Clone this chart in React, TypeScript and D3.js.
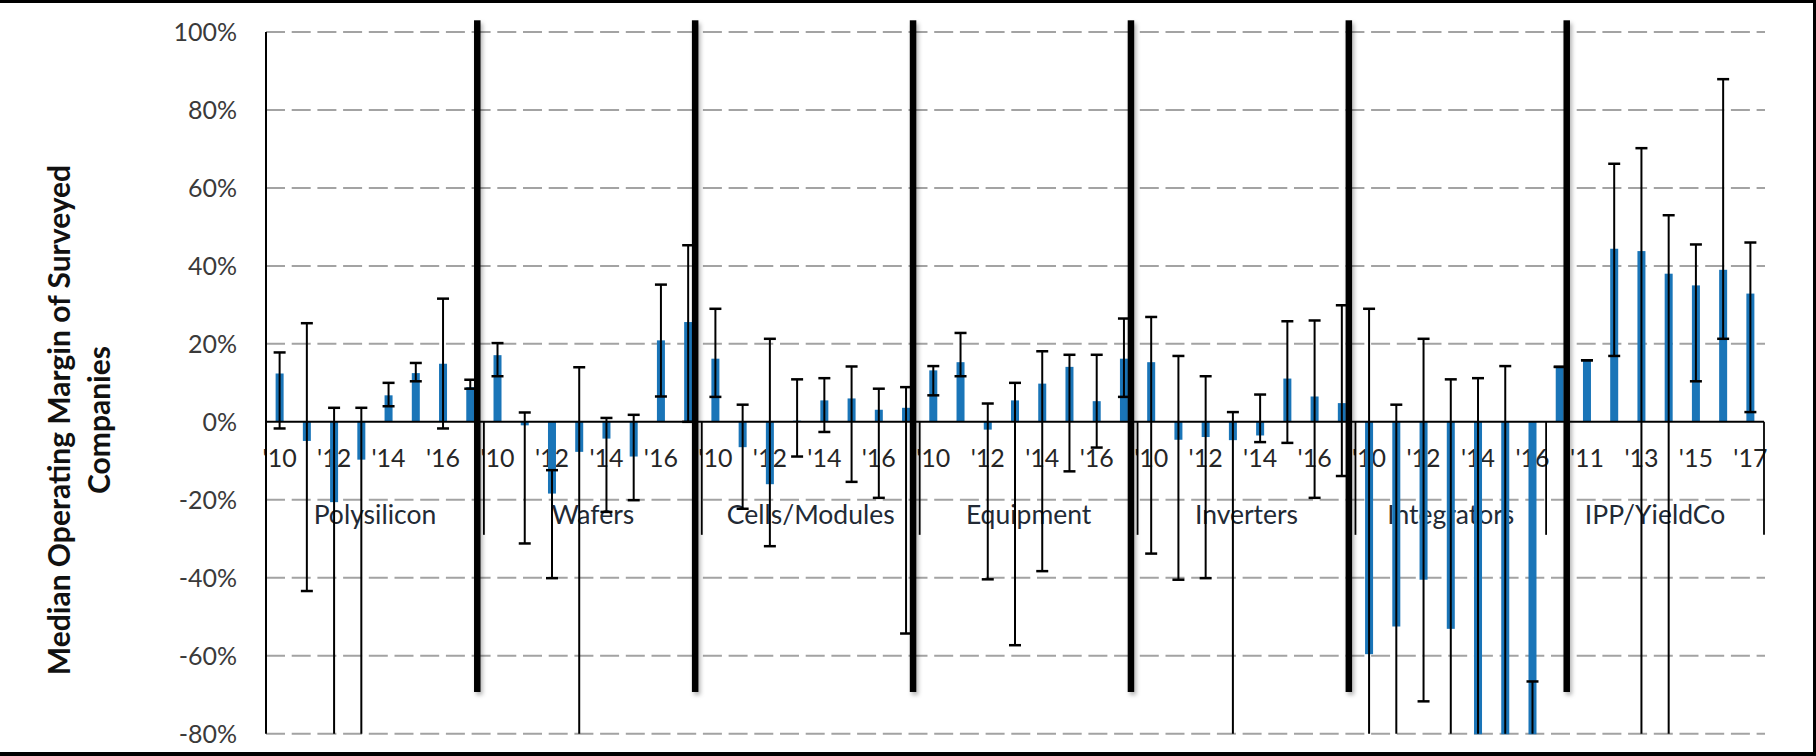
import React from "react";
import * as d3 from "d3";

// ---- data ----
const groups = ["Polysilicon", "Wafers", "Cells/Modules", "Equipment", "Inverters", "Integrators", "IPP/YieldCo"];
const groupYears: number[][] = [
  [2010, 2011, 2012, 2013, 2014, 2015, 2016, 2017],
  [2010, 2011, 2012, 2013, 2014, 2015, 2016, 2017],
  [2010, 2011, 2012, 2013, 2014, 2015, 2016, 2017],
  [2010, 2011, 2012, 2013, 2014, 2015, 2016, 2017],
  [2010, 2011, 2012, 2013, 2014, 2015, 2016, 2017],
  [2010, 2011, 2012, 2013, 2014, 2015, 2016],
  [2010, 2011, 2012, 2013, 2014, 2015, 2016, 2017],
];
// median operating margin (%)
const medianValues: number[][] = [
  [12.4, -4.9, -20.6, -9.7, 6.8, 12.5, 14.9, 8.9],
  [17.1, -0.9, -18.4, -7.7, -4.3, -8.9, 20.9, 25.6],
  [16.2, -6.5, -16.0, 0.3, 5.5, 6.0, 3.1, 3.6],
  [13.2, 15.3, -2.0, 5.5, 9.8, 14.1, 5.3, 16.2],
  [15.3, -4.6, -3.9, -4.7, -3.5, 11.1, 6.5, 4.8],
  [-59.6, -52.5, -40.5, -53.1, -88, -92, -90],
  [14.1, 15.8, 44.4, 43.8, 38.0, 35.0, 39.0, 32.9],
];
// error bar high end (%)
const highValues: number[][] = [
  [17.8, 25.3, 3.6, 3.6, 10.0, 15.1, 31.6, 10.8],
  [20.2, 2.4, -12.4, 14.0, 1.0, 1.8, 35.2, 45.3],
  [29.0, 4.4, 21.3, 10.9, 11.2, 14.2, 8.5, 8.9],
  [14.3, 22.8, 4.7, 10.0, 18.1, 17.2, 17.2, 26.5],
  [26.9, 16.9, 11.7, 2.5, 7.0, 25.8, 26.0, 29.9],
  [29.0, 4.4, 21.3, 10.9, 11.2, 14.3, -66.6],
  [14.1, 15.8, 66.2, 70.2, 53.0, 45.5, 87.9, 46.0],
];
// error bar low end (%)
const lowValues: number[][] = [
  [-1.7, -43.4, -95, -95, 4.0, 10.4, -1.7, 8.5],
  [11.7, -31.2, -40.1, -95, -23.1, -20.1, 6.5, 0],
  [6.4, -22.3, -31.9, -8.9, -2.6, -15.4, -19.5, -54.3],
  [6.8, 11.7, -40.4, -57.3, -38.3, -12.7, -6.6, 6.4],
  [-33.8, -40.5, -40.1, -95, -5.2, -5.4, -19.5, -13.9],
  [-95, -95, -71.7, -95, -95, -95, -95],
  [14.1, 15.8, 16.9, -95, -95, 10.4, 21.3, 2.5],
];
const yTicks = [100, 80, 60, 40, 20, 0, -20, -40, -60, -80];
// manual separators are drawn after these category indices
const separatorAfter = [7, 15, 23, 31, 39, 47];
const separatorRange = [103, -69.3];
const yTitleLines = ["Median Operating Margin of Surveyed", "Companies"];

// ---- flatten ----
type Row = { key: number; group: number; year: number; v: number; hi: number; lo: number };
const rows: Row[] = [];
groups.forEach((g, gi) => {
  groupYears[gi].forEach((yr, j) => {
    rows.push({ key: rows.length, group: gi, year: yr, v: medianValues[gi][j], hi: highValues[gi][j], lo: lowValues[gi][j] });
  });
});

const W = 1816, H = 756;
const PL = 266, PR = 1764;
const FONT = "Lato, 'Open Sans', sans-serif";

export default function App() {
  const x = d3.scaleBand<number>().domain(rows.map(r => r.key)).range([PL, PR]).paddingInner(0).paddingOuter(0);
  const y = d3.scaleLinear().domain([-80, 100]).range([733.7, 32]);
  const bw = x.bandwidth();
  const cx = (k: number) => (x(k) as number) + bw / 2;
  const y0 = y(0);
  const yMin = y(-80), yMax = y(100);
  const clampY = (v: number) => Math.max(yMax, Math.min(yMin, y(v)));
  const barW = 8;
  const capW = 12;
  const sepW = 6.5;

  // group boundaries
  const bounds: number[] = [];
  let acc = 0;
  groups.forEach((g, gi) => { bounds.push(acc); acc += groupYears[gi].length; });
  bounds.push(acc);
  const bx = (idx: number) => idx >= rows.length ? PR : (x(idx) as number);

  return (
    <>
      <style>{`html,body{margin:0;padding:0;background:#fff;}`}</style>
      <svg width={W} height={H} style={{ display: "block" }} fontFamily={FONT}>
        <defs>
          <filter id="sh" filterUnits="userSpaceOnUse" x={0} y={0} width={W} height={H}>
            <feDropShadow dx="2" dy="3" stdDeviation="2" floodColor="#000" floodOpacity="0.3" />
          </filter>
          <clipPath id="plotClip">
            <rect x={PL - 10} y={yMax - 1} width={PR - PL + 20} height={yMin - yMax + 1.5} />
          </clipPath>
        </defs>
        <rect x={0} y={0} width={W} height={H} fill="#fff" />

        {/* gridlines */}
        {yTicks.filter(t => t !== 0).map(t => (
          <line key={"g" + t} x1={PL} x2={PR + 1} y1={y(t)} y2={y(t)} stroke="#a3a3a3" strokeWidth={2} strokeDasharray="19 6.7" />
        ))}

        {/* y tick labels */}
        {yTicks.map(t => (
          <text key={"t" + t} x={237} y={y(t) + 8.8} textAnchor="end" fontSize={25} fill="#3a3a3a">{`${t}%`}</text>
        ))}

        {/* y title */}
        {yTitleLines.map((line, i) => (
          <text key={"yt" + i} transform={`translate(${70 + i * 40},420) rotate(-90)`} textAnchor="middle" fontSize={30} fontWeight="bold" fill="#111">{line}</text>
        ))}

        {/* year labels */}
        {rows.filter(r => r.key % 2 === 0).map(r => (
          <text key={"yl" + r.key} x={cx(r.key)} y={467} textAnchor="middle" fontSize={25} fill="#262626">{`'${String(r.year).slice(2)}`}</text>
        ))}

        {/* group labels */}
        {groups.map((g, gi) => (
          <text key={"gl" + gi} x={(bx(bounds[gi]) + bx(bounds[gi + 1])) / 2} y={524} textAnchor="middle" fontSize={26.5} fill="#222a35">{g}</text>
        ))}

        {/* bars */}
        <g clipPath="url(#plotClip)">
          {rows.map(r => (
            <rect key={"b" + r.key} x={cx(r.key) - barW / 2} width={barW}
              y={Math.min(y(r.v), y0)} height={Math.abs(y(r.v) - y0)} fill="#1a75b8" />
          ))}
        </g>

        {/* axes */}
        <line x1={PL} x2={PR} y1={y0} y2={y0} stroke="#000" strokeWidth={2} />
        <line x1={PL} x2={PL} y1={yMax} y2={yMin} stroke="#000" strokeWidth={2} />
        {bounds.slice(1).map((b, i) => (
          <line key={"d" + i} x1={bx(b)} x2={bx(b)} y1={y0} y2={y0 + 113} stroke="#000" strokeWidth={1.8} />
        ))}

        {/* error bars */}
        <g stroke="#000">
          {rows.map(r => {
            const c = cx(r.key);
            const yh = clampY(r.hi), yl = clampY(r.lo);
            return (
              <g key={"e" + r.key}>
                <line x1={c} x2={c} y1={yh} y2={yl} strokeWidth={2} />
                {r.hi >= -80 && r.hi <= 100 && <line x1={c - capW / 2} x2={c + capW / 2} y1={y(r.hi)} y2={y(r.hi)} strokeWidth={2.5} />}
                {r.lo >= -80 && r.lo <= 100 && <line x1={c - capW / 2} x2={c + capW / 2} y1={y(r.lo)} y2={y(r.lo)} strokeWidth={2.5} />}
              </g>
            );
          })}
        </g>

        {/* thick group separators */}
        <g filter="url(#sh)">
          {separatorAfter.map(k => {
            const sx = (x(k) as number) + bw / 2 + 7;
            const ya = y(separatorRange[0]), yb = y(separatorRange[1]);
            return <rect key={"s" + k} x={sx - sepW / 2} width={sepW} y={ya} height={yb - ya} fill="#000" />;
          })}
        </g>

        {/* frame */}
        <rect x={0} y={0} width={W} height={3} fill="#000" />
        <rect x={0} y={H - 4} width={W} height={4} fill="#000" />
        <rect x={W - 3} y={0} width={3} height={H} fill="#000" />
      </svg>
    </>
  );
}
